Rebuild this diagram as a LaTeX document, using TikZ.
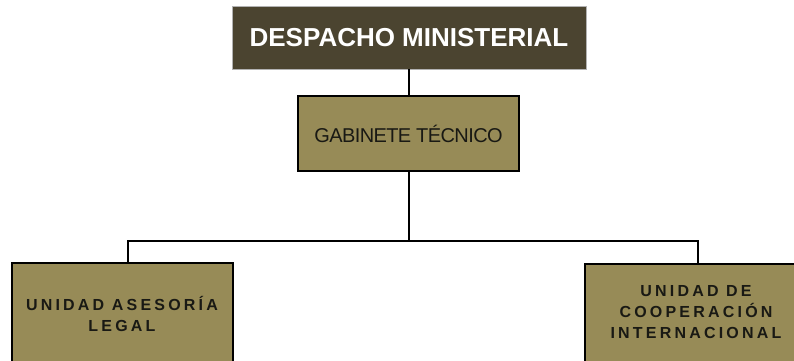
\documentclass[tikz,border=0pt]{standalone}
\usepackage{fontspec}
\setmainfont{Liberation Sans}
\newfontfamily\spacedfont[LetterSpace=20]{Liberation Sans}
\newfontfamily\tightfont[LetterSpace=-3]{Liberation Sans}
\definecolor{darkolive}{RGB}{75,68,48}
\definecolor{olivefill}{RGB}{151,139,87}
\definecolor{textdark}{RGB}{25,25,20}
\begin{document}
\begin{tikzpicture}[x=1pt,y=-1pt,
  topbox/.style={fill=darkolive, draw=gray!60, line width=0.8pt, inner sep=0pt},
  midbox/.style={fill=olivefill, draw=black, line width=2.7pt, inner sep=0pt},
  unitbox/.style={fill=olivefill, draw=black, line width=2.3pt, inner sep=0pt},
  unittext/.style={align=center, text=textdark, font=\spacedfont\bfseries\fontsize{16}{21}\selectfont},
  conn/.style={draw=black, line width=2.5pt}]
\useasboundingbox (0,0) rectangle (794,360);
\clip (0,0) rectangle (794,360);
\node[topbox, minimum width=354pt, minimum height=63pt, text=white,
      font=\bfseries\fontsize{26}{30}\selectfont] (desp) at (409,37.5) {DESPACHO MINISTERIAL};
\node[midbox, minimum width=221pt, minimum height=75pt, text=textdark,
      font=\tightfont\fontsize{20}{24}\selectfont] (gab) at (408.5,133.5) {GABINETE TÉCNICO};
\node[unitbox, minimum width=221pt, minimum height=107pt] (legal) at (122.5,316.5) {};
\node[unitbox, minimum width=225pt, minimum height=110pt] (coop) at (697.5,319) {};
\node[unittext] (legaltext) at (122,314) {UNIDAD ASESORÍA\\LEGAL};
\node[unittext] (cooptext) at (696,312) {UNIDAD DE\\COOPERACIÓN\\INTERNACIONAL};
\coordinate (busM) at (409,241);
\coordinate (busL) at (128,241);
\coordinate (busR) at (698,241);
\draw[conn] (desp.south -| busM) -- (gab.north -| busM);
\draw[conn] (gab.south -| busM) -- (busM);
\draw[conn] (legal.north -| busL) -- (busL) -- (busR) -- (coop.north -| busR);
\end{tikzpicture}
\end{document}
